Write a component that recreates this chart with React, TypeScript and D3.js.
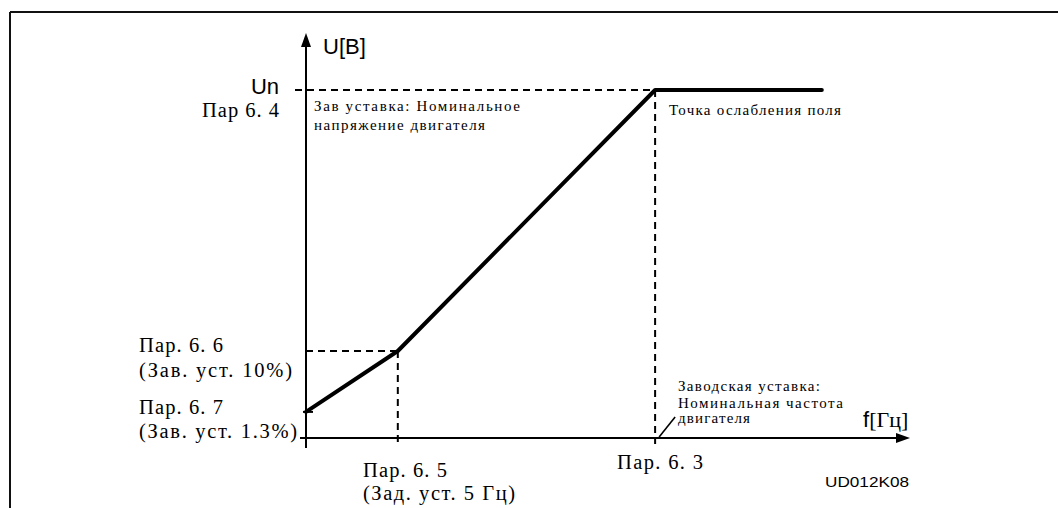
import React from "react";
import * as d3 from "d3";

// Schematic data (relative units: frequency 0..100 along the f axis, voltage 0..100 = Un)
const curveF = [0, 15.2, 57.8, 85.4];
const curveU = [7.5, 25, 100, 100];

// Reference points
const breakF = 15.2; // Пар. 6.5
const breakU = 25; // Пар. 6.6
const startU = 7.5; // Пар. 6.7
const fieldWeakF = 57.8; // Пар. 6.3
const unU = 100; // Un, Пар 6.4

const yAxisLabel = "U[B]";
const unLabel = "Un";
const par64 = "Пар 6. 4";
const annotUn = ["Зав уставка: Номинальное", "напряжение двигателя"];
const annotFW = "Точка ослабления поля";
const par66 = ["Пар. 6. 6", "(Зав. уст. 10%)"];
const par67 = ["Пар. 6. 7", "(Зав. уст. 1.3%)"];
const par65 = ["Пар. 6. 5", "(Зад. уст. 5 Гц)"];
const par63 = "Пар. 6. 3";
const annotFn = ["Заводская уставка:", "Номинальная частота", "двигателя"];
const code = "UD012K08";

const W = 1058;
const H = 508;
const SERIF = "'Liberation Serif', 'Times New Roman', serif";
const SANS = "'Liberation Sans', Arial, sans-serif";

export default function App() {
  const x = d3.scaleLinear().domain([0, 100]).range([306, 910]);
  const y = d3.scaleLinear().domain([0, 100]).range([438, 90]);
  const pts: [number, number][] = curveF.map((f, i) => [x(f), y(curveU[i])]);
  const line = d3.line();

  const x0 = x(0);
  const y0 = y(0);
  const yTop = y(116.4);
  const xEnd = x(100);
  const dash = "7 5";
  const big = 20.5;
  const small = 15;

  return (
    <svg
      width={W}
      height={H}
      style={{ position: "absolute", left: 0, top: 0, background: "#fff" }}
    >
      {/* frame */}
      <line x1={10} y1={12} x2={W} y2={12} stroke="#111" strokeWidth={2} />
      <line x1={10} y1={12} x2={10} y2={H} stroke="#111" strokeWidth={2} />

      {/* dashed guides */}
      <line x1={x0 - 11} y1={y(unU)} x2={x(fieldWeakF)} y2={y(unU)} stroke="#000" strokeWidth={2} strokeDasharray={dash} />
      <line x1={x(fieldWeakF)} y1={y(unU)} x2={x(fieldWeakF)} y2={y0 + 6} stroke="#000" strokeWidth={2} strokeDasharray={dash} />
      <line x1={x0} y1={y(breakU)} x2={x(breakF)} y2={y(breakU)} stroke="#000" strokeWidth={2} strokeDasharray={dash} />
      <line x1={x(breakF)} y1={y(breakU)} x2={x(breakF)} y2={y0 + 6} stroke="#000" strokeWidth={2} strokeDasharray={dash} />

      {/* axes */}
      <line x1={x0} y1={y0 + 10} x2={x0} y2={yTop + 12} stroke="#000" strokeWidth={2} />
      <path d={`M${x0},${yTop} L${x0 - 5},${yTop + 14} L${x0 + 5},${yTop + 14} Z`} fill="#000" />
      <line x1={x0 - 6} y1={y0} x2={xEnd - 12} y2={y0} stroke="#000" strokeWidth={2} />
      <path d={`M${xEnd},${y0} L${xEnd - 14},${y0 - 5} L${xEnd - 14},${y0 + 5} Z`} fill="#000" />
      <line x1={x0 - 3} y1={y(startU)} x2={x0 + 7} y2={y(startU)} stroke="#000" strokeWidth={2} />

      {/* curve */}
      <path d={line(pts) || ""} fill="none" stroke="#000" strokeWidth={4} strokeLinejoin="round" strokeLinecap="round" />

      {/* leader */}
      <line x1={x(fieldWeakF) + 4} y1={y0 - 1} x2={x(fieldWeakF) + 20} y2={y0 - 21} stroke="#000" strokeWidth={1.6} />

      {/* sans labels */}
      <text x={323} y={54} fontFamily={SANS} fontSize={22} fill="#000">{yAxisLabel}</text>
      <text x={279} y={94} fontFamily={SANS} fontSize={22} fill="#000" textAnchor="end">{unLabel}</text>
      <text x={863} y={427} fontFamily={SANS} fontSize={22} fill="#000">
        f<tspan fontFamily={SERIF}>[Гц]</tspan>
      </text>
      <text x={825} y={487} fontFamily={SANS} fontSize={15} fill="#000" textLength={84} lengthAdjust="spacingAndGlyphs">{code}</text>

      {/* serif parameter labels */}
      <text x={202} y={117} fontFamily={SERIF} fontSize={big} fill="#000" textLength={77} lengthAdjust="spacing">{par64}</text>
      <text x={139} y={352} fontFamily={SERIF} fontSize={big} fill="#000" textLength={84} lengthAdjust="spacing">{par66[0]}</text>
      <text x={139} y={377} fontFamily={SERIF} fontSize={big} fill="#000" textLength={153} lengthAdjust="spacing">{par66[1]}</text>
      <text x={139} y={414} fontFamily={SERIF} fontSize={big} fill="#000" textLength={84} lengthAdjust="spacing">{par67[0]}</text>
      <text x={139} y={438} fontFamily={SERIF} fontSize={big} fill="#000" textLength={158} lengthAdjust="spacing">{par67[1]}</text>
      <text x={363} y={477} fontFamily={SERIF} fontSize={big} fill="#000" textLength={84} lengthAdjust="spacing">{par65[0]}</text>
      <text x={363} y={500} fontFamily={SERIF} fontSize={big} fill="#000" textLength={152} lengthAdjust="spacing">{par65[1]}</text>
      <text x={617} y={469} fontFamily={SERIF} fontSize={big} fill="#000" textLength={86} lengthAdjust="spacing">{par63}</text>

      {/* small annotations */}
      <text x={314} y={111} fontFamily={SERIF} fontSize={small} fill="#000" textLength={206} lengthAdjust="spacing">{annotUn[0]}</text>
      <text x={314} y={130} fontFamily={SERIF} fontSize={small} fill="#000" textLength={171} lengthAdjust="spacing">{annotUn[1]}</text>
      <text x={669} y={115} fontFamily={SERIF} fontSize={small} fill="#000" textLength={172} lengthAdjust="spacing">{annotFW}</text>
      <text x={678} y={391} fontFamily={SERIF} fontSize={small} fill="#000" textLength={142} lengthAdjust="spacing">{annotFn[0]}</text>
      <text x={678} y={408} fontFamily={SERIF} fontSize={small} fill="#000" textLength={165} lengthAdjust="spacing">{annotFn[1]}</text>
      <text x={678} y={423} fontFamily={SERIF} fontSize={small} fill="#000" textLength={72} lengthAdjust="spacing">{annotFn[2]}</text>
    </svg>
  );
}
